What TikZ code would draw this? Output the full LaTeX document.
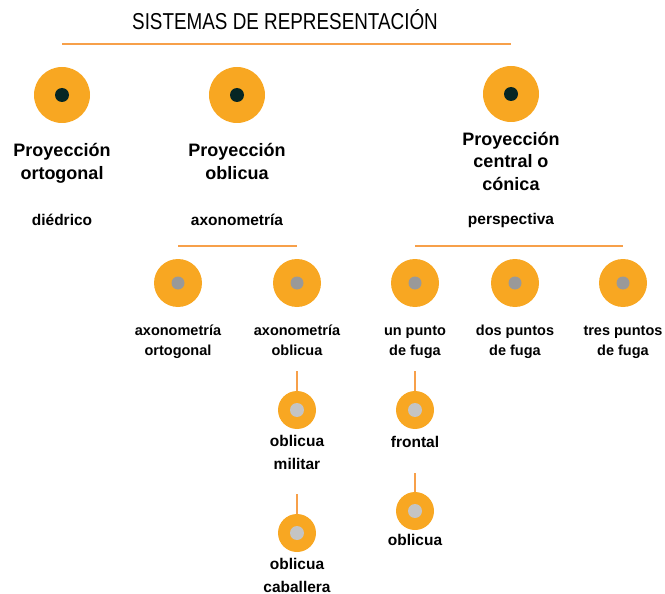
\documentclass[tikz,border=0pt]{standalone}
\usepackage{fontspec}
\setmainfont{Liberation Sans}
\newfontfamily\titlefont{Liberation Sans}[FakeStretch=0.82]
\usetikzlibrary{positioning}
\definecolor{sisorange}{HTML}{F8A722}
\definecolor{sisline}{HTML}{F7A04A}
\definecolor{sisdark}{HTML}{062624}
\definecolor{sisgray}{HTML}{999999}
\definecolor{sislight}{HTML}{C4C4C4}

\tikzset{
  topnode/.style={circle, fill=sisorange, minimum size=56pt, inner sep=0pt,
    path picture={\fill[sisdark] (path picture bounding box.center) circle (7pt);}},
  midnode/.style={circle, fill=sisorange, minimum size=48pt, inner sep=0pt,
    path picture={\fill[sisgray] (path picture bounding box.center) circle (6.5pt);}},
  lownode/.style={circle, fill=sisorange, minimum size=38pt, inner sep=0pt,
    path picture={\fill[sislight] (path picture bounding box.center) circle (7pt);}},
  toplbl/.style={font=\fontsize{18}{22.5}\selectfont\bfseries, align=center, anchor=base},
  sublbl/.style={font=\fontsize{15.5}{20}\selectfont\bfseries, anchor=base},
  midlbl/.style={font=\fontsize{14.5}{19.5}\selectfont\bfseries, align=center, anchor=base},
  lowlbl/.style={font=\fontsize{15.5}{22.5}\selectfont\bfseries, align=center, anchor=base},
  rule/.style={draw=sisline, line width=1.5pt}
}

\begin{document}
\begin{tikzpicture}[x=1pt, y=-1pt]
\useasboundingbox (0,0) rectangle (665,594);

% titulo
\node[font=\fontsize{23}{23}\selectfont\titlefont, anchor=base] (title) at (285,30) {SISTEMAS DE REPRESENTACIÓN};
\coordinate (tline) at (0,44);

% primer nivel
\node[topnode] (orto) at (62,95) {};
\node[topnode] (obli) at (237,95) {};
\node[topnode] (cent) at (511,94) {};
\draw[rule] (orto |- tline) -- (cent |- tline);

% (base = ultima linea)
\node[toplbl] (orto-l) at (62,179) {Proyección\\ortogonal};
\node[toplbl] (obli-l) at (237,179) {Proyección\\oblicua};
\node[toplbl] (cent-l) at (511,190) {Proyección\\central o\\cónica};
\node[sublbl] (orto-s) at (62,225) {diédrico};
\node[sublbl] (obli-s) at (237,225) {axonometría};
\node[sublbl] (cent-s) at (511,224) {perspectiva};

% segundo nivel
\coordinate (mline) at (0,246);
\node[midnode] (axo-o) at (178,283) {};
\node[midnode] (axo-b) at (297,283) {};
\node[midnode] (fuga1) at (415,283) {};
\node[midnode] (fuga2) at (515,283) {};
\node[midnode] (fuga3) at (623,283) {};
\draw[rule] (axo-o |- mline) -- (axo-b |- mline);
\draw[rule] (fuga1 |- mline) -- (fuga3 |- mline);

\node[midlbl] (axo-o-l) at (178,355) {axonometría\\ortogonal};
\node[midlbl] (axo-b-l) at (297,355) {axonometría\\oblicua};
\node[midlbl] (fuga1-l) at (415,355) {un punto\\de fuga};
\node[midlbl] (fuga2-l) at (515,355) {dos puntos\\de fuga};
\node[midlbl] (fuga3-l) at (623,355) {tres puntos\\de fuga};

% tercer nivel
\node[lownode] (mil) at (297,410) {};
\node[lownode] (cab) at (297,533) {};
\node[lownode] (fron) at (415,410) {};
\node[lownode] (obl) at (415,511) {};
\draw[rule] (mil.north) -- ++(0,-20);
\draw[rule] (cab.north) -- ++(0,-20);
\draw[rule] (fron.north) -- ++(0,-20);
\draw[rule] (obl.north) -- ++(0,-19);

\node[lowlbl] (mil-l) at (297,469) {oblicua\\militar};
\node[lowlbl] (cab-l) at (297,592) {oblicua\\caballera};
\node[lowlbl] (fron-l) at (415,447) {frontal};
\node[lowlbl] (obl-l) at (415,545) {oblicua};
\end{tikzpicture}
\end{document}
